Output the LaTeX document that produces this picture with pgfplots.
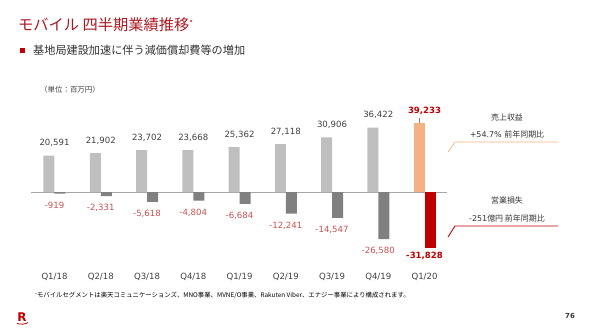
\documentclass[border=0pt]{standalone}
\usepackage{pgfplots}
\pgfplotsset{compat=1.18}
\usepackage{fontspec}
\setmainfont{DejaVu Sans}
\newfontfamily\jp{Noto Sans CJK JP}

\definecolor{titlered}{RGB}{170,25,35}
\definecolor{revgray}{RGB}{191,191,191}
\definecolor{lossgray}{RGB}{128,128,128}
\definecolor{revorange}{RGB}{244,177,131}
\definecolor{lossred}{RGB}{192,0,0}
\definecolor{labeldark}{RGB}{64,64,64}
\definecolor{losslabel}{RGB}{200,80,80}
\definecolor{zerogray}{RGB}{166,166,166}
\definecolor{textdark}{RGB}{51,51,51}

\newcommand{\numfont}{\fontsize{8.6}{10}\selectfont}

\begin{document}
\begin{tikzpicture}[x=1bp,y=1bp]
\path[use as bounding box] (0,0) rectangle (590,330);

% headings
\node[anchor=west, inner sep=0, text=titlered] at (18,305)
  {\jp\fontsize{15.3}{18}\selectfont モバイル 四半期業績推移\raisebox{0.5ex}{\fontsize{8}{9}\selectfont *}};
\fill[lossred] (20,277.5) rectangle (25,282.5);
\node[anchor=west, inner sep=0, text=textdark] at (33,280)
  {\jp\fontsize{11.2}{13}\selectfont 基地局建設加速に伴う減価償却費等の増加};
\node[inner sep=0, text=labeldark] at (70,240)
  {\jp\fontsize{7.5}{9}\selectfont （単位：百万円）};

\begin{axis}[
  at={(31bp,67.2bp)}, anchor=south west,
  scale only axis, width=416bp, height=141.6bp,
  xmin=-0.508, xmax=8.486, ymin=-40000, ymax=40000,
  axis line style={draw=none},
  ytick=\empty,
  xtick={0,...,8},
  xticklabels={Q1/18,Q2/18,Q3/18,Q4/18,Q1/19,Q2/19,Q3/19,Q4/19,Q1/20},
  major tick length=0pt,
  xticklabel style={anchor=base, yshift=-17bp, font=\numfont, text=labeldark},
  clip=false,
  /pgf/number format/.cd, 1000 sep={,}, fixed, precision=0, assume math mode=true,
]
% zero line
\draw[zerogray, line width=0.8pt] (rel axis cs:0,0.5) -- (rel axis cs:1,0.5);

% revenue
\addplot[ybar, bar width=11bp, bar shift=-5.5bp, fill=revgray, draw=none,
  nodes near coords,
  every node near coord/.append style={anchor=base, yshift=9.6bp, font=\numfont, text=labeldark}]
  coordinates {(0,20591) (1,21902) (2,23702) (3,23668) (4,25362) (5,27118) (6,30906) (7,36422)};
\addplot[ybar, bar width=11bp, bar shift=-5.5bp, fill=revorange, draw=none,
  nodes near coords,
  every node near coord/.append style={anchor=base, yshift=9.4bp, font=\numfont\bfseries, text=lossred}]
  coordinates {(8,39233)};
\draw[revorange!70!black, line width=0.4pt] (axis cs:8,39233) ++(-5.5bp,0bp) -- ++(0bp,4.5bp);

% operating loss
\addplot[ybar, bar width=11bp, bar shift=5.5bp, fill=lossgray, draw=none,
  nodes near coords,
  every node near coord/.append style={anchor=base, yshift=-14.6bp, font=\numfont, text=losslabel}]
  coordinates {(0,-919) (1,-2331) (2,-5618) (3,-4804) (4,-6684) (5,-12241) (6,-14547) (7,-26580)};
\addplot[ybar, bar width=11bp, bar shift=5.5bp, fill=lossred, draw=none,
  nodes near coords,
  every node near coord/.append style={anchor=base, yshift=-10.2bp, font=\numfont\bfseries, text=lossred}]
  coordinates {(8,-31828)};
\end{axis}

% annotations on the right
\node[inner sep=0, text=textdark] at (507,213) {\jp\fontsize{8}{9}\selectfont 売上収益};
\node[inner sep=0, text=textdark] at (507,196) {\fontsize{8}{9}\selectfont +54.7\% {\jp 前年同期比}};
\draw[revorange, line width=0.7pt] (448,178) -- (455,188) -- (558,188);
\node[inner sep=0, text=textdark] at (507,130) {\jp\fontsize{8}{9}\selectfont 営業損失};
\node[inner sep=0, text=textdark] at (507,112) {\fontsize{8}{9}\selectfont -251{\jp 億円 前年同期比}};
\draw[lossred, line width=0.9pt] (448,93) -- (455,104) -- (558,104);

% footnote, logo and page number
\node[anchor=west, inner sep=0, text=black] at (35,34.5)
  {\jp\fontsize{6.4}{7}\selectfont \raisebox{0.4ex}{\fontsize{4}{5}\selectfont *}モバイルセグメントは楽天コミュニケーションズ、MNO事業、MVNE/O事業、Rakuten Viber、エナジー事業により構成されます。};
\node[inner sep=0, text=lossred] at (22,13) {\fontsize{12}{13}\selectfont\bfseries R};
\draw[lossred, line width=0.8pt] (17,6.5) .. controls (21,5.5) and (25,5.5) .. (28,7.5);
\node[inner sep=0, text=textdark] at (570,14.3) {\fontsize{7}{8}\selectfont\bfseries 76};
\end{tikzpicture}
\end{document}
